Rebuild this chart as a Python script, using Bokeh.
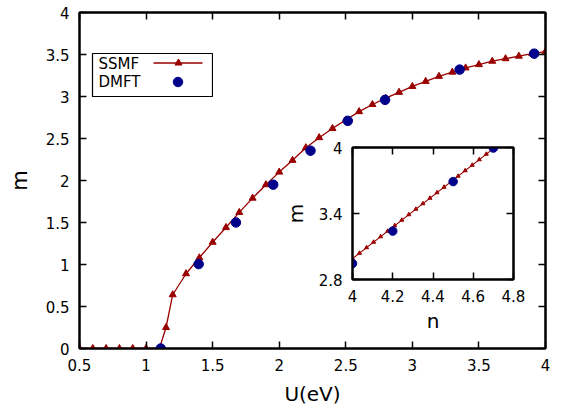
from bokeh.plotting import figure
from bokeh.models import Range1d, LinearAxis, FixedTicker
from bokeh.core.properties import value
from bokeh.embed import file_html
from bokeh.resources import INLINE

# ---- main panel: magnetic moment m versus Hubbard U ----
ssmf_u = [0.5, 0.6, 0.7, 0.8, 0.9, 1.0, 1.1, 1.15, 1.2, 1.3, 1.4, 1.5, 1.6, 1.7,
          1.8, 1.9, 2.0, 2.1, 2.2, 2.3, 2.4, 2.5, 2.6, 2.7, 2.8, 2.9, 3.0, 3.1,
          3.2, 3.3, 3.4, 3.5, 3.6, 3.7, 3.8, 3.9, 4.0]
ssmf_m = [0.0, 0.0, 0.0, 0.0, 0.0, 0.0, 0.0, 0.25, 0.64, 0.89, 1.08, 1.265, 1.44,
          1.62, 1.79, 1.95, 2.10, 2.24, 2.39, 2.51, 2.62, 2.72, 2.82, 2.905, 2.98,
          3.05, 3.12, 3.18, 3.24, 3.29, 3.34, 3.38, 3.42, 3.45, 3.48, 3.51, 3.535]

dmft_u = [1.11, 1.395, 1.675, 1.955, 2.235, 2.515, 2.795, 3.355, 3.915]
dmft_m = [0.0, 1.005, 1.50, 1.95, 2.355, 2.71, 2.96, 3.32, 3.51]

main_x_ticks = [0.5, 1.0, 1.5, 2.0, 2.5, 3.0, 3.5, 4.0]
main_x_labels = ["0.5", "1", "1.5", "2", "2.5", "3", "3.5", "4"]
main_y_ticks = [0.0, 0.5, 1.0, 1.5, 2.0, 2.5, 3.0, 3.5, 4.0]
main_y_labels = ["0", "0.5", "1", "1.5", "2", "2.5", "3", "3.5", "4"]

# ---- inset: m versus filling n ----
inset_ssmf_n = [4.0, 4.035, 4.07, 4.105, 4.14, 4.175, 4.21, 4.245, 4.28, 4.315,
                4.35, 4.385, 4.42, 4.455, 4.49, 4.525, 4.56, 4.595, 4.63, 4.665, 4.7]
inset_ssmf_m = [2.99, 3.04, 3.09, 3.14, 3.19, 3.24, 3.29, 3.34, 3.39, 3.44,
                3.49, 3.54, 3.59, 3.64, 3.69, 3.74, 3.79, 3.84, 3.89, 3.94, 3.99]
inset_dmft_n = [4.0, 4.2, 4.5, 4.7]
inset_dmft_m = [2.945, 3.24, 3.69, 3.995]

inset_x_ticks = [4.0, 4.2, 4.4, 4.6, 4.8]
inset_x_labels = ["4", "4.2", "4.4", "4.6", "4.8"]
inset_y_ticks = [2.8, 3.4, 4.0]
inset_y_labels = ["2.8", "3.4", "4"]

legend_labels = ["SSMF", "DMFT"]

RED = "#9a0000"
BLUE = "#00008b"
FONT = "DejaVu Sans"


def style_axis(ax, ticks, labels, size, show_labels=True):
    ax.ticker = FixedTicker(ticks=ticks)
    ax.major_label_overrides = {t: s for t, s in zip(ticks, labels)}
    ax.minor_tick_line_color = None
    ax.major_tick_in = 7
    ax.major_tick_out = 0
    ax.major_tick_line_width = 1.5
    ax.axis_line_width = 2
    ax.major_label_text_font = FONT
    ax.major_label_text_color = "black"
    ax.major_label_standoff = 10
    ax.axis_label_text_font = FONT
    ax.axis_label_text_font_style = "normal"
    ax.axis_label_text_color = "black"
    ax.major_label_text_font_size = size if show_labels else "0px"
    if not show_labels:
        ax.major_label_standoff = 0


def mirror_axes(fig, xt, yt):
    top = LinearAxis()
    right = LinearAxis()
    style_axis(top, xt, [""] * len(xt), "0px", show_labels=False)
    style_axis(right, yt, [""] * len(yt), "0px", show_labels=False)
    fig.add_layout(top, "above")
    fig.add_layout(right, "right")


def place(fig, left, top):
    fig.styles = {"position": "absolute", "left": f"{left}px", "top": f"{top}px",
                  "width": f"{fig.width}px", "height": f"{fig.height}px"}


p = figure(width=565, height=412, x_range=Range1d(0.5, 4.0), y_range=Range1d(0.0, 4.0),
           output_backend="svg", toolbar_location=None,
           min_border_left=79, min_border_right=20, min_border_top=12, min_border_bottom=64)
p.xgrid.visible = False
p.ygrid.visible = False
p.outline_line_color = "black"
p.outline_line_width = 2
p.background_fill_color = "white"
p.border_fill_color = "white"

style_axis(p.xaxis[0], main_x_ticks, main_x_labels, "15px")
style_axis(p.yaxis[0], main_y_ticks, main_y_labels, "15px")
p.xaxis[0].axis_label = "U(eV)"
p.yaxis[0].axis_label = "m"
p.xaxis[0].axis_label_text_font_size = "20px"
p.yaxis[0].axis_label_text_font_size = "21px"
p.xaxis[0].axis_label_standoff = 8
p.yaxis[0].axis_label_standoff = 11
mirror_axes(p, main_x_ticks, main_y_ticks)

p.line(ssmf_u, ssmf_m, line_color=RED, line_width=1.3)
p.scatter(ssmf_u, ssmf_m, marker="triangle", size=7, fill_color=RED, line_color=RED)
p.scatter(dmft_u, dmft_m, marker="circle", size=9.5, fill_color=BLUE, line_color=BLUE)
place(p, 0, 0)

# ---- inset figure ----
inset = figure(width=245, height=200, x_range=Range1d(4.0, 4.8), y_range=Range1d(2.8, 4.0),
               output_backend="svg", toolbar_location=None,
               min_border_left=71, min_border_right=12, min_border_top=10, min_border_bottom=58)
inset.xgrid.visible = False
inset.ygrid.visible = False
inset.outline_line_color = "black"
inset.outline_line_width = 2
inset.background_fill_color = "white"
inset.border_fill_alpha = 0
style_axis(inset.xaxis[0], inset_x_ticks, inset_x_labels, "15px")
style_axis(inset.yaxis[0], inset_y_ticks, inset_y_labels, "15px")
inset.xaxis[0].axis_label = "n"
inset.yaxis[0].axis_label = "m"
inset.xaxis[0].axis_label_text_font_size = "20px"
inset.yaxis[0].axis_label_text_font_size = "20px"
inset.xaxis[0].axis_label_standoff = 4
inset.yaxis[0].axis_label_standoff = 8
mirror_axes(inset, inset_x_ticks, inset_y_ticks)

inset.line(inset_ssmf_n, inset_ssmf_m, line_color=RED, line_width=1.2)
inset.scatter(inset_ssmf_n, inset_ssmf_m, marker="triangle", size=4, fill_color=RED, line_color=RED)
inset.scatter(inset_dmft_n, inset_dmft_m, marker="circle", size=8.5, fill_color=BLUE, line_color=BLUE)
place(inset, 280, 137)

# ---- key box: label on the left, sample on the right ----
key = figure(width=122, height=45, x_range=Range1d(0, 120), y_range=Range1d(43, 0),
             output_backend="svg", toolbar_location=None,
             x_axis_type=None, y_axis_type=None,
             min_border_left=1, min_border_right=1, min_border_top=1, min_border_bottom=1)
key.xgrid.visible = False
key.ygrid.visible = False
key.outline_line_color = "black"
key.outline_line_width = 1.2
key.background_fill_color = "white"
key.border_fill_alpha = 0
key.text(x=[6, 6], y=[10.5, 28.5], text=legend_labels, text_font=value(FONT),
         text_font_size="15px", text_baseline="middle", text_align="left", text_color="black")
key.line(x=[61, 110], y=[9.5, 9.5], line_color=RED, line_width=1.3)
key.scatter(x=[86], y=[9.5], marker="triangle", size=7, fill_color=RED, line_color=RED)
key.scatter(x=[85.5], y=[28.5], marker="circle", size=9.5, fill_color=BLUE, line_color=BLUE)
place(key, 91, 52)

open("out.html", "w").write(file_html([p, inset, key], INLINE))
